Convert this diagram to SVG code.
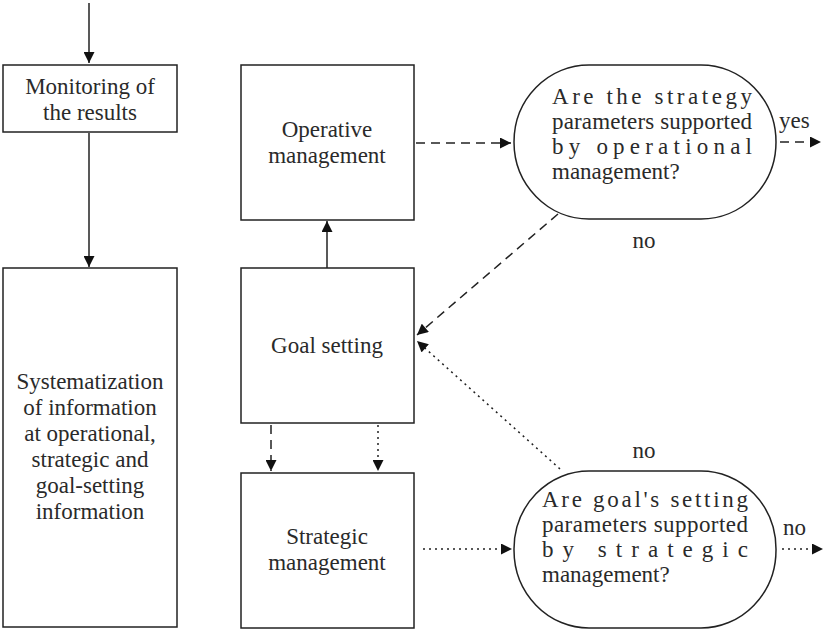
<svg xmlns="http://www.w3.org/2000/svg" width="825" height="629" viewBox="0 0 825 629">
<style>
.box{fill:#fff;stroke:#222;stroke-width:1.5}
.t{font-family:'Liberation Serif','DejaVu Serif',serif;font-size:23px;fill:#2a2a2a}
.c{text-anchor:middle}
.ln{fill:none;stroke:#222;stroke-width:1.5}
.dash{stroke-dasharray:9 6}
.dot{stroke-dasharray:2 4}
</style>
<defs>
<marker id="ah" viewBox="0 0 10 10" refX="10" refY="5" markerWidth="12" markerHeight="11" markerUnits="userSpaceOnUse" orient="auto">
<path d="M0,0 L10,5 L0,10 z" fill="#111"/>
</marker>
</defs>
<g id="connectors">
<line class="ln" x1="89" y1="3" x2="89" y2="63" marker-end="url(#ah)" stroke="#555"/>
<line class="ln" x1="89" y1="133" x2="89" y2="267" marker-end="url(#ah)"/>
<line class="ln" x1="327" y1="268" x2="327" y2="221" marker-end="url(#ah)"/>
<line class="ln dash" x1="416" y1="143" x2="511" y2="143" marker-end="url(#ah)"/>
<line class="ln dash" x1="780" y1="142" x2="821" y2="142" marker-end="url(#ah)"/>
<line class="ln dash" x1="558" y1="214" x2="417" y2="335" marker-end="url(#ah)"/>
<line class="ln dot" x1="560" y1="469" x2="417" y2="341" marker-end="url(#ah)"/>
<line class="ln dash" x1="271" y1="425" x2="271" y2="471" marker-end="url(#ah)"/>
<line class="ln dot" x1="378" y1="425" x2="378" y2="471" marker-end="url(#ah)"/>
<line class="ln dot" x1="423" y1="549" x2="512" y2="549" marker-end="url(#ah)"/>
<line class="ln dot" x1="782" y1="549" x2="823" y2="549" marker-end="url(#ah)"/>
</g>
<g id="monitoring">
<rect class="box" x="3" y="65" width="174" height="67"/>
<text class="t c" x="90" y="94">Monitoring of</text>
<text class="t c" x="90" y="120">the results</text>
</g>
<g id="systematization">
<rect class="box" x="3" y="268" width="174" height="359"/>
<text class="t c" x="90" y="389">Systematization</text>
<text class="t c" x="90" y="415">of information</text>
<text class="t c" x="90" y="441">at operational,</text>
<text class="t c" x="90" y="467">strategic and</text>
<text class="t c" x="90" y="493">goal-setting</text>
<text class="t c" x="90" y="519">information</text>
</g>
<g id="operative">
<rect class="box" x="241" y="65" width="173" height="155"/>
<text class="t c" x="327" y="137">Operative</text>
<text class="t c" x="327" y="163">management</text>
</g>
<g id="goal">
<rect class="box" x="241" y="268" width="173" height="155"/>
<text class="t c" x="327" y="353">Goal setting</text>
</g>
<g id="strategic">
<rect class="box" x="241" y="473" width="173" height="155"/>
<text class="t c" x="327" y="544">Strategic</text>
<text class="t c" x="327" y="570">management</text>
</g>
<g id="decision1">
<rect class="box" x="514" y="65" width="262" height="154" rx="75" ry="77"/>
<text class="t" x="552" y="104" textLength="200" lengthAdjust="spacing">Are the strategy</text>
<text class="t" x="552" y="129" textLength="200" lengthAdjust="spacing">parameters supported</text>
<text class="t" x="552" y="154" textLength="200" lengthAdjust="spacing">by operational</text>
<text class="t" x="552" y="179">management?</text>
</g>
<g id="decision2">
<rect class="box" x="514" y="471" width="262" height="157" rx="75" ry="78"/>
<text class="t" x="542" y="507" textLength="206" lengthAdjust="spacing">Are goal's setting</text>
<text class="t" x="542" y="532" textLength="206" lengthAdjust="spacing">parameters supported</text>
<text class="t" x="542" y="557" textLength="206" lengthAdjust="spacing">by  strategic</text>
<text class="t" x="542" y="582">management?</text>
</g>
<g id="labels">
<text class="t" x="779" y="128">yes</text>
<text class="t c" x="644" y="248">no</text>
<text class="t c" x="644" y="458">no</text>
<text class="t" x="783" y="535">no</text>
</g>
</svg>
